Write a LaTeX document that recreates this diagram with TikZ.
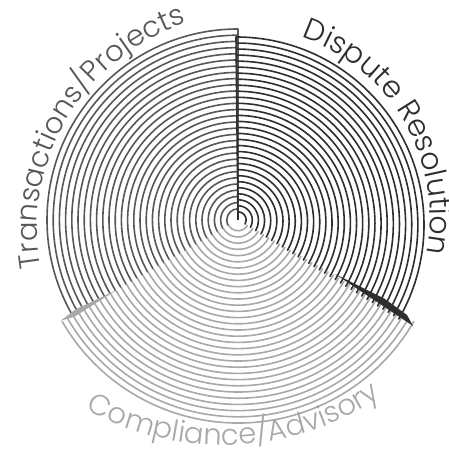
\documentclass[tikz,border=0pt]{standalone}
\usepackage{fontspec}
\setmainfont{Poppins Light}
\usetikzlibrary{decorations.text}
\definecolor{tcol}{HTML}{575757}
\definecolor{dcol}{HTML}{2E2E2E}
\definecolor{ccol}{HTML}{A8A8A8}
\tikzset{
  ring/.style={line width=1.6pt, line cap=round},
  lbl/.style={decorate, decoration={text along path, text align=center, text={#1}}}
}
\begin{document}
\begin{tikzpicture}[x=1pt,y=1pt]
\useasboundingbox (0,0) rectangle (449,466);
\coordinate (O) at (238,246);
% Transactions/Projects
\foreach \k in {0,...,29}{
  \pgfmathsetmacro\r{191-6.2*\k}
  \draw[ring, tcol] ([shift={(90:\r)}]O) arc[start angle=90, end angle=210, radius=\r];
}
\draw[tcol, line width=2pt] (O) -- ([shift={(90:191)}]O);
% Compliance/Advisory
\foreach \k in {0,...,31}{
  \pgfmathsetmacro\r{203-6.2*\k}
  \draw[ring, ccol] ([shift={(210:\r)}]O) arc[start angle=210, end angle=330, radius=\r];
}
\fill[ccol] ([shift={(210:140)}]O) -- ([shift={(208.8:185)}]O) -- ([shift={(209.6:204)}]O) -- ([shift={(210.6:190)}]O) -- cycle;
% Dispute Resolution
\foreach \k in {0,...,29}{
  \pgfmathsetmacro\r{188-6.2*\k}
  \pgfmathsetmacro\cx{236+2*\k/29}
  \pgfmathsetmacro\cy{241+5*\k/29}
  \draw[ring, dcol] ([shift={(90:\r)}]\cx,\cy) arc[start angle=90, end angle=-30, radius=\r];
}
\draw[dcol, line width=1.6pt] (O) -- ([shift={(90:188)}]236,241);
\fill[dcol] (335,192) -- (385,167) -- (407,151) -- (413,140) -- (398,150) -- (365,172) -- cycle;
% labels
\path[lbl={|\fontsize{29}{30}\selectfont\color{tcol}|Transactions/Projects}]
  ([shift={(200:218)}]255,236) arc[start angle=200, end angle=98, radius=218];
\path[lbl={|\fontsize{30}{30}\selectfont\color{dcol}|Dispute Resolution}]
  ([shift={(80:190)}]240,249) arc[start angle=80, end angle=-20, radius=190];
\path[lbl={|\fontsize{29}{30}\selectfont\color{ccol}|Compliance/Advisory}]
  ([shift={(235:283)}]223,304) arc[start angle=235, end angle=310, radius=283];
\end{tikzpicture}
\end{document}
